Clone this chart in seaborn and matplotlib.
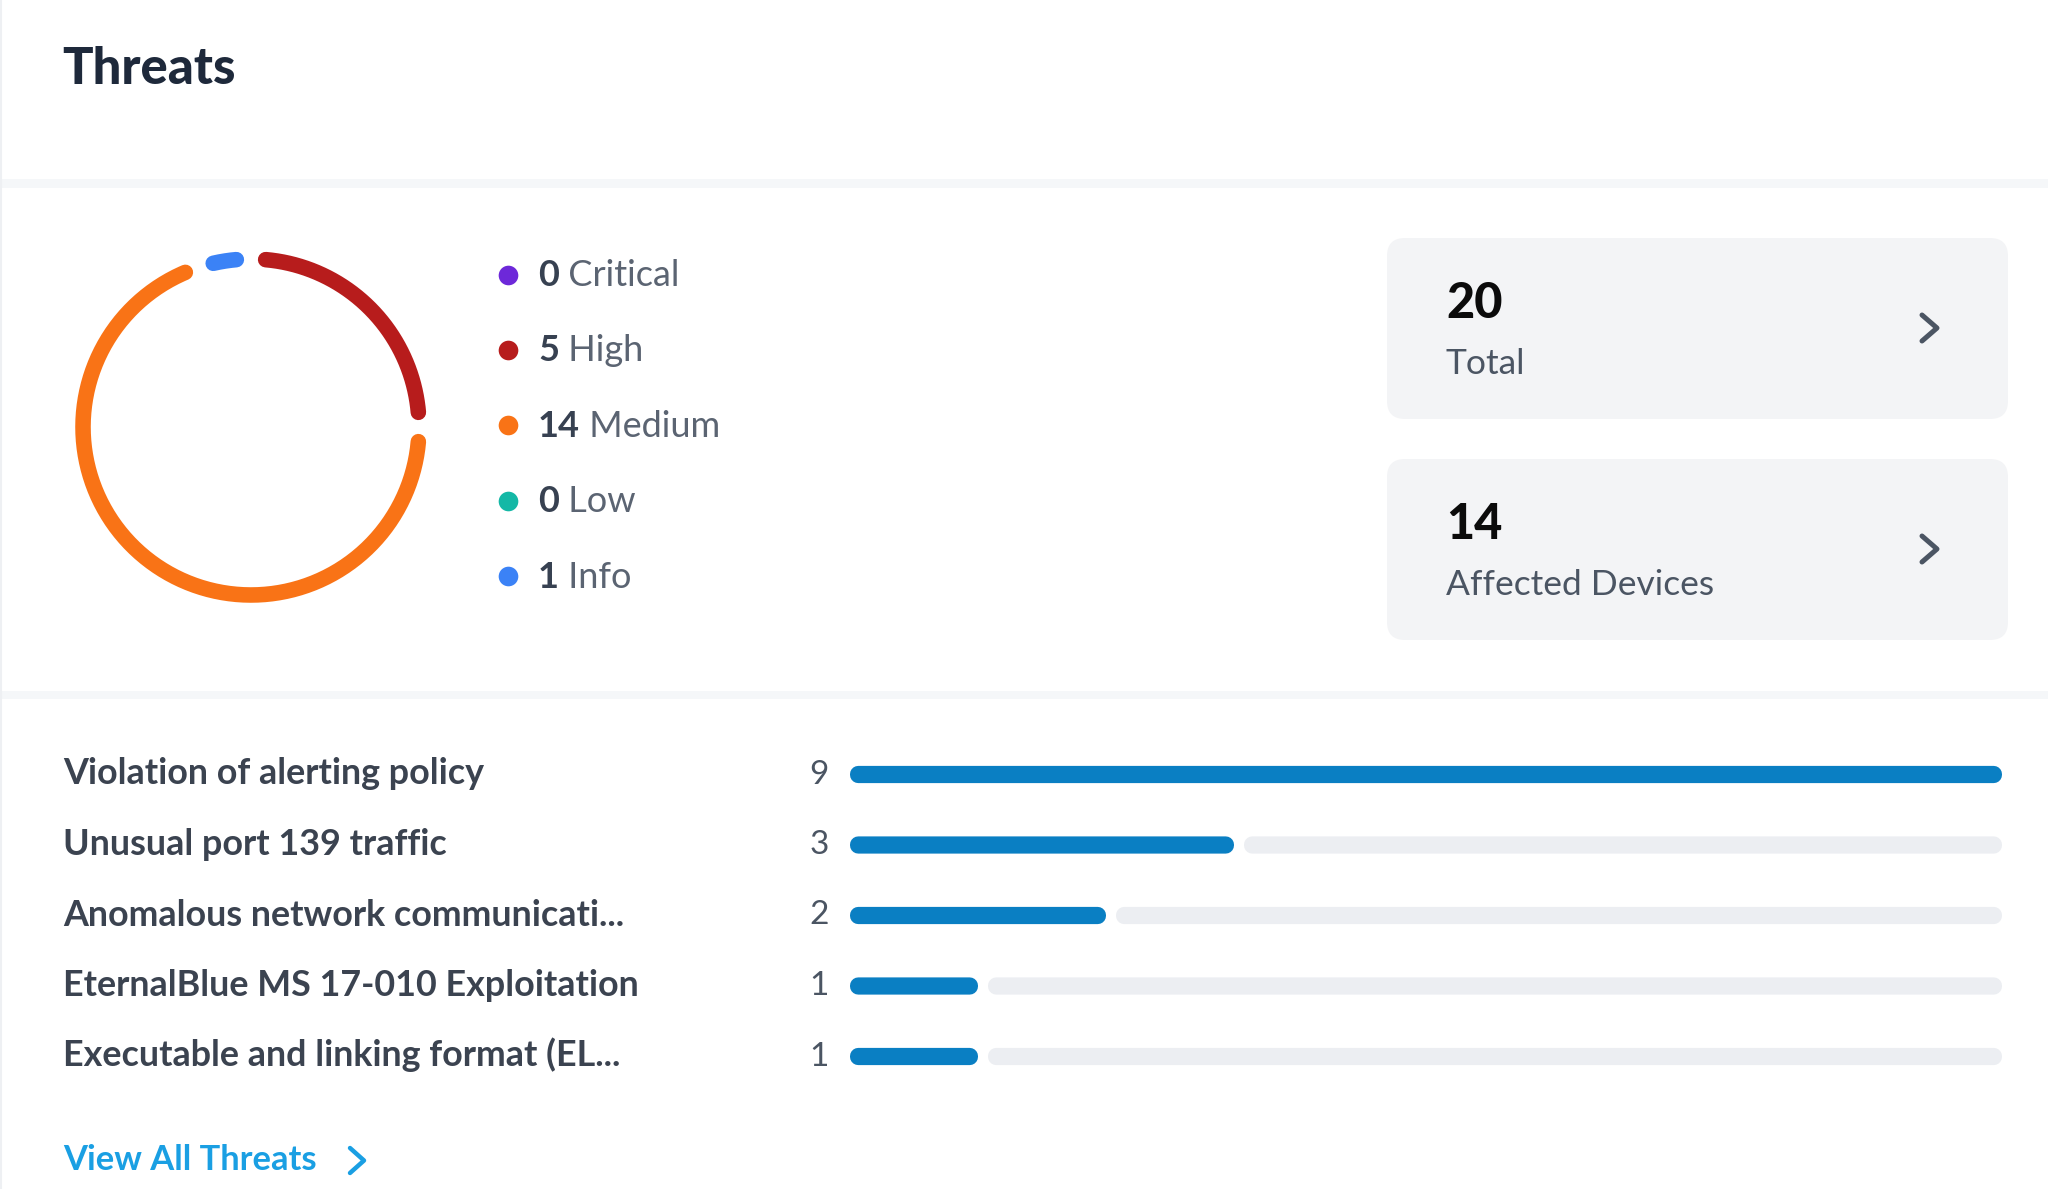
import numpy as np
import pandas as pd
import matplotlib
matplotlib.use("Agg")
import matplotlib.pyplot as plt
from matplotlib.patches import FancyBboxPatch, Rectangle
import seaborn as sns

# ---------------- data ----------------
title = "Threats"
severity_labels = ["Critical", "High", "Medium", "Low", "Info"]
severity_counts = [0, 5, 14, 0, 1]
severity_colors = ["#6d28d9", "#b71c1c", "#f97316", "#14b8a6", "#3b82f6"]

summary_values = [20, 14]
summary_labels = ["Total", "Affected Devices"]

threat_names = [
    "Violation of alerting policy",
    "Unusual port 139 traffic",
    "Anomalous network communicati...",
    "EternalBlue MS 17-010 Exploitation",
    "Executable and linking format (EL...",
]
threat_counts = [9, 3, 2, 1, 1]
link_text = "View All Threats"

# ---------------- style ----------------
sns.set_theme(style="white")
FONT = ["Lato", "DejaVu Sans"]
plt.rcParams["font.family"] = FONT

W, H = 2048, 1189
fig = plt.figure(figsize=(W / 100, H / 100), dpi=100)
fig.patch.set_facecolor("white")

# overlay axes in pixel coordinates (y down)
ov = fig.add_axes([0, 0, 1, 1])
ov.set_xlim(0, W)
ov.set_ylim(H, 0)
ov.axis("off")

# separators & faint border
for y0, y1 in [(179, 188), (691, 699)]:
    ov.add_patch(Rectangle((0, y0), W, y1 - y0, color="#f5f7f9", lw=0))
ov.plot([1, 1], [0, H], color="#eef0f3", lw=1.5)

# title
ov.text(62, 84, title, fontsize=36.5, fontweight="black", color="#1e293b",
        ha="left", va="baseline")

# ---------------- donut ----------------
R_AX = 200
cx, cy = 251, 427
axd = fig.add_axes([(cx - R_AX) / W, 1 - (cy + R_AX) / H, 2 * R_AX / W, 2 * R_AX / H],
                   projection="polar")
axd.set_theta_zero_location("N")
axd.set_theta_direction(-1)
axd.set_ylim(0, R_AX)
axd.axis("off")
axd.patch.set_alpha(0)
total = sum(severity_counts)
cum = np.concatenate([[0], np.cumsum(severity_counts)])
trim = np.deg2rad(5.0)
for i, c in enumerate(severity_counts):
    if c == 0:
        continue
    a0 = cum[i] / total * 2 * np.pi + trim
    a1 = cum[i + 1] / total * 2 * np.pi - trim
    th = np.linspace(a0, a1, 200)
    axd.plot(th, np.full_like(th, 168.0), color=severity_colors[i], lw=11.2,
             solid_capstyle="round")

# ---------------- legend ----------------
leg_x, leg_y0, leg_dy = 508, 274.5, 75.4
for i, (lab, c, col) in enumerate(zip(severity_labels, severity_counts, severity_colors)):
    y = leg_y0 + i * leg_dy
    ov.scatter([leg_x], [y], s=200, color=col, zorder=3, linewidths=0)
    t = ov.text(538, y + 11.5, f"{c}", fontsize=26, fontweight="bold",
                color="#374151", ha="left", va="baseline")
    ov.annotate(f" {lab}", xy=(1, 0), xycoords=t, fontsize=26, color="#5b6472",
                ha="left", va="bottom")

# ---------------- summary cards ----------------
card_tops = [238, 459]
card_h = 181
for top, v, lab in zip(card_tops, summary_values, summary_labels):
    ov.add_patch(FancyBboxPatch((1387, top), 2008 - 1387, card_h,
                                boxstyle="round,pad=0,rounding_size=18",
                                fc="#f3f4f6", ec="none", zorder=1))
    ov.text(1446, top + 80, f"{v}", fontsize=35, fontweight="black", color="#0b0b0b",
            ha="left", va="baseline", zorder=2)
    ov.text(1446, top + 136, lab, fontsize=25.5, color="#4b5563",
            ha="left", va="baseline", zorder=2)
    cyc = top + 90
    ov.plot([1922, 1937, 1922], [cyc - 13, cyc, cyc + 13], color="#4b5563", lw=3.6,
            solid_capstyle="round", solid_joinstyle="round", zorder=2)

# ---------------- bars ----------------
bar_left, bar_right = 850, 2002
row0, row_dy = 774.5, 70.5
n = len(threat_counts)
top_px = row0 - row_dy / 2
bot_px = row0 + (n - 0.5) * row_dy
axb = fig.add_axes([bar_left / W, 1 - bot_px / H, (bar_right - bar_left) / W, (bot_px - top_px) / H])
axb.patch.set_alpha(0)
vmax = max(threat_counts)
lw_px = 16.5
cap = lw_px / 2
scale = (bar_right - bar_left) / vmax          # px per unit
pad = cap / scale                              # round cap radius in data units
gap = 10 / scale                               # gap between bar and track
df = pd.DataFrame({"name": threat_names, "count": threat_counts})

# background tracks
for i, v in enumerate(threat_counts):
    left = v + gap + pad
    wdt = vmax - pad - left
    if wdt > 0:
        axb.barh(i, wdt, left=left, height=0.01, color="#eceef2",
                 edgecolor="#eceef2", linewidth=lw_px * 0.72, joinstyle="round",
                 snap=False, zorder=1)

n_before = len(axb.patches)
sns.barplot(data=df, x="count", y="name", orient="h", ax=axb, color="#0a7fc3",
            saturation=1, width=0.01, edgecolor="#0a7fc3", linewidth=lw_px * 0.72,
            zorder=2)
# keep the rounded caps inside the bar length so the visible length is proportional
for p in axb.patches[n_before:]:
    p.set_joinstyle("round")
    p.set_snap(False)
    p.set_x(p.get_x() + pad)
    p.set_width(p.get_width() - 2 * pad)
axb.set_xlim(0, vmax)
axb.set_ylim(n - 0.5, -0.5)
axb.axis("off")

for i, (nm, v) in enumerate(zip(threat_names, threat_counts)):
    axb.annotate(nm, xy=(0, i), xycoords=("axes fraction", "data"),
                 xytext=(63 - bar_left, -10), textcoords="offset pixels",
                 ha="left", va="baseline", fontsize=25.8, fontweight="bold",
                 color="#3b4350")
    axb.annotate(f"{v}", xy=(0, i), xycoords=("axes fraction", "data"),
                 xytext=(829 - bar_left, -9), textcoords="offset pixels",
                 ha="right", va="baseline", fontsize=24, color="#4b5563")

# ---------------- link ----------------
ov.text(63, 1170, link_text, fontsize=24.8, fontweight="bold", color="#1a9fe3",
        ha="left", va="baseline")
ov.plot([350, 364, 350], [1148, 1160.5, 1173], color="#1a9fe3", lw=3.2,
        solid_capstyle="round", solid_joinstyle="round")

fig.savefig("out.png", dpi=100, facecolor="white")
